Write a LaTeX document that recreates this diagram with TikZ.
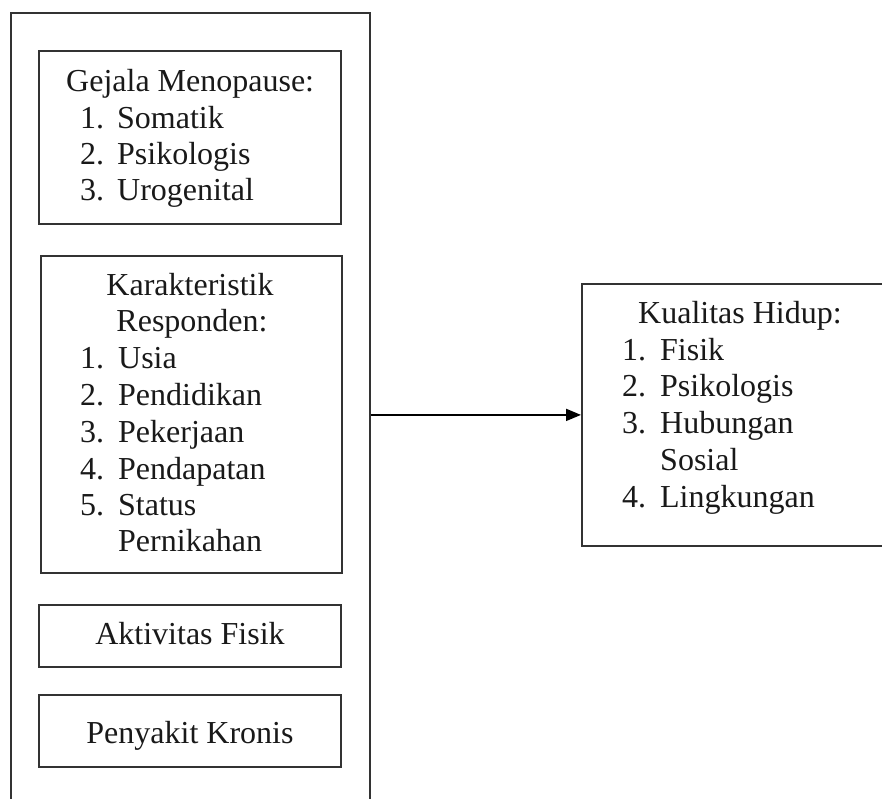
\documentclass[tikz,border=0pt]{standalone}
\usepackage{fontspec}
\setmainfont{Liberation Serif}
\usetikzlibrary{arrows.meta}
\begin{document}
\begin{tikzpicture}[x=1pt,y=-1pt,
  box/.style={draw=black!80, line width=1.8pt, rectangle, inner sep=0pt, anchor=north west},
  txt/.style={inner sep=0pt, anchor=base west, font=\fontsize{32}{37}\selectfont, text=black!90},
  ctxt/.style={txt, anchor=base},
  conn/.style={draw=black, line width=1.8pt, -{Triangle[length=15pt,width=12pt]}}]
\useasboundingbox (0,0) rectangle (882,798);
\clip (0,0) rectangle (882,798);
% boxes
\node[box, minimum width=359pt, minimum height=830pt] (outer) at (10,12) {};
\node[box, minimum width=302pt, minimum height=173pt] (gejala) at (38,50) {};
\node[box, minimum width=301pt, minimum height=317pt] (karak) at (40,255) {};
\node[box, minimum width=302pt, minimum height=62pt] (aktiv) at (38,604) {};
\node[box, minimum width=302pt, minimum height=72pt] (penyakit) at (38,694) {};
\node[box, minimum width=340pt, minimum height=262pt] (kual) at (581,283) {};
% Gejala Menopause
\node[txt] (g0) at (66,91) {Gejala Menopause:};
\node[txt] (g1) at (80,128) {\makebox[37pt][l]{1.}Somatik};
\node[txt] (g2) at (80,164) {\makebox[37pt][l]{2.}Psikologis};
\node[txt] (g3) at (80,200) {\makebox[37pt][l]{3.}Urogenital};
% Karakteristik
\node[ctxt] (k0) at (190,295) {Karakteristik};
\node[ctxt] (k1) at (192,331) {Responden:};
\node[txt] (k2) at (80,368) {\makebox[38pt][l]{1.}Usia};
\node[txt] (k3) at (80,405) {\makebox[38pt][l]{2.}Pendidikan};
\node[txt] (k4) at (80,442) {\makebox[38pt][l]{3.}Pekerjaan};
\node[txt] (k5) at (80,479) {\makebox[38pt][l]{4.}Pendapatan};
\node[txt] (k6) at (80,515) {\makebox[38pt][l]{5.}Status};
\node[txt] (k7) at (80,551) {\makebox[38pt][l]{}Pernikahan};
% Aktivitas / Penyakit
\node[ctxt] (a0) at (190,644) {Aktivitas Fisik};
\node[ctxt] (p0) at (190,743) {Penyakit Kronis};
% Kualitas Hidup
\node[txt] (q0) at (638,323) {Kualitas Hidup:};
\node[txt] (q1) at (622,360) {\makebox[38pt][l]{1.}Fisik};
\node[txt] (q2) at (622,396) {\makebox[38pt][l]{2.}Psikologis};
\node[txt] (q3) at (622,433) {\makebox[38pt][l]{3.}Hubungan};
\node[txt] (q4) at (622,470) {\makebox[38pt][l]{}Sosial};
\node[txt] (q5) at (622,507) {\makebox[38pt][l]{4.}Lingkungan};
% connector
\draw[conn] (outer.east |- kual.west) -- (kual.west);
\end{tikzpicture}
\end{document}
